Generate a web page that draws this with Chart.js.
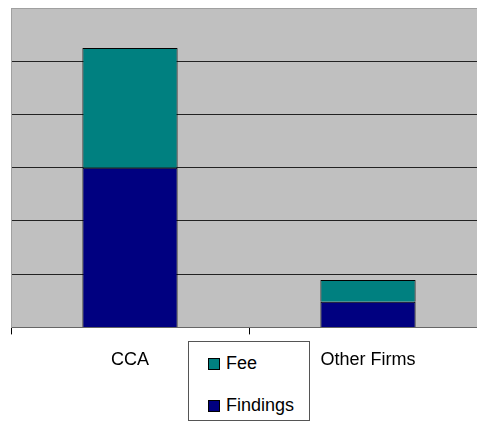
<!doctype html>
<html lang="en">
  <head>
    <meta charset="utf-8">
    <title>CCA vs Other Firms</title>
    <script src="https://cdn.jsdelivr.net/npm/chart.js"></script>
    <style>
      html, body { margin: 0; padding: 0; background: #fff; overflow: hidden; }
      #wrap { position: relative; width: 477px; height: 425px; overflow: hidden; }
      #legend {
        position: absolute; left: 188px; top: 341px; width: 120px; height: 78px;
        border: 1px solid #555; background: #fff;
        font-family: "Liberation Sans", Arial, sans-serif; font-size: 18px; color: #000;
      }
      .item { position: absolute; left: 19px; height: 20px; line-height: 20px; }
      .sw { display: inline-block; width: 10px; height: 10px; border: 1px solid #000; margin-right: 6px; vertical-align: -1px; }
    </style>
  </head>
  <body>
    <div id="wrap">
      <canvas id="myChart" width="490" height="425"></canvas>
      <div id="legend"></div>
    </div>

    <script>
    // data
    const categories = ['CCA', 'Other Firms'];
    const findings = [3.0, 0.48];
    const fee = [2.25, 0.41];
    const seriesNames = ['Findings', 'Fee'];
    const seriesColors = ['#000080', '#008080'];

    // grey plot area behind bars
    const plotBg = {
      id: 'plotBg',
      beforeDraw(chart) {
        const a = chart.chartArea;
        const c = chart.ctx;
        c.save();
        c.fillStyle = '#c0c0c0';
        c.fillRect(a.left, a.top, a.right - a.left, a.bottom - a.top);
        c.restore();
      }
    };

    const ctx = document.getElementById('myChart');
    const myChart = new Chart(ctx, {
      type: 'bar',
      data: {
        labels: categories,
        datasets: [{
          label: seriesNames[0],
          data: findings,
          backgroundColor: seriesColors[0],
          borderColor: '#000',
          borderWidth: 1
        }, {
          label: seriesNames[1],
          data: fee,
          backgroundColor: seriesColors[1],
          borderColor: '#000',
          borderWidth: 1
        }]
      },
      options: {
        responsive: false,
        animation: false,
        layout: { padding: { top: 8, left: 11, right: 3, bottom: 39 } },
        datasets: { bar: { barPercentage: 0.4, categoryPercentage: 1 } },
        plugins: { legend: { display: false }, tooltip: { enabled: false } },
        scales: {
          x: {
            stacked: true,
            offset: true,
            grid: { offset: true, drawOnChartArea: false, drawTicks: true, tickLength: 7, color: '#000' },
            border: { color: '#666' },
            ticks: {
              color: '#000', padding: 15,
              font: { family: '"Liberation Sans", Arial, sans-serif', size: 18 }
            }
          },
          y: {
            stacked: true,
            min: 0,
            max: 6,
            ticks: { display: false, stepSize: 1 },
            grid: {
              drawTicks: false,
              color: c => c.tick.value === 6 ? '#a0a0a0' : '#222'
            },
            border: { color: '#a0a0a0' }
          }
        }
      },
      plugins: [plotBg]
    });

    // legend box, Fee on top like the original
    const legend = document.getElementById('legend');
    [1, 0].forEach((i, n) => {
      const d = document.createElement('div');
      d.className = 'item';
      d.style.top = (n === 0 ? 11 : 53) + 'px';
      d.innerHTML = '<span class="sw" style="background:' + seriesColors[i] + '"></span>' + seriesNames[i];
      legend.appendChild(d);
    });
    </script>
  </body>
</html>
